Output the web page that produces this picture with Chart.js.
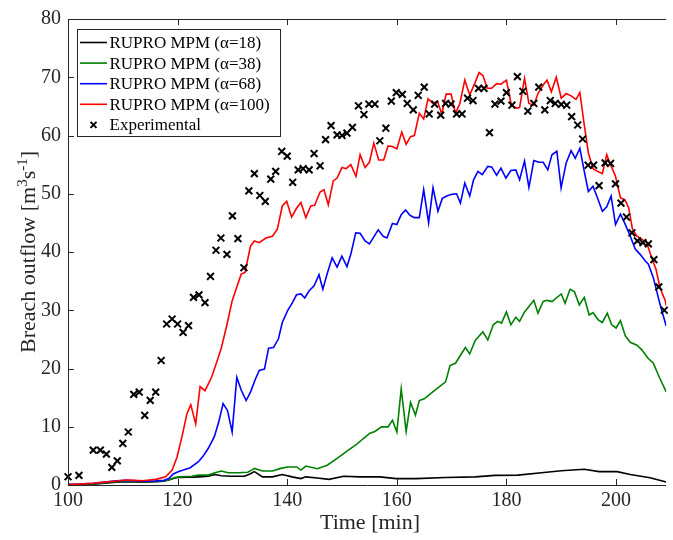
<!DOCTYPE html>
<html>
<head>
<meta charset="utf-8">
<script src="https://cdn.jsdelivr.net/npm/chart.js@4/dist/chart.umd.min.js"></script>
<style>
html,body{margin:0;padding:0;background:#fff;}
canvas{display:block;}
</style>
</head>
<body>
<canvas id="c" width="673" height="540"></canvas>
<script>
// ---- Data (time [min], breach outflow [m3/s]) ----
const xTicks = [100, 120, 140, 160, 180, 200];
const yTicks = [0, 10, 20, 30, 40, 50, 60, 70, 80];

const seriesLabels = ['RUPRO MPM (\u03b1=18)', 'RUPRO MPM (\u03b1=38)', 'RUPRO MPM (\u03b1=68)', 'RUPRO MPM (\u03b1=100)', 'Experimental'];

const alpha18 = [[100,0],[104.6,0.15],[108.8,0.5],[110.6,0.55],[113.6,0.5],[116,0.55],[117.5,0.65],[118.5,0.9],[119.5,1.2],[120.2,1.3],[122.6,1.35],[123.8,1.4],[125.6,1.5],[126.8,1.8],[128,1.6],[129.8,1.5],[132.2,1.5],[133.2,1.9],[134,2.3],[135.5,1.4],[137.3,1.4],[139.1,1.8],[140.9,1.4],[142.5,1.1],[143.4,1.4],[145.5,1.2],[147.6,0.97],[150.3,1.5],[153.3,1.4],[156.9,1.4],[159.9,1.1],[163.5,1.1],[168.9,1.3],[174.3,1.4],[177.9,1.66],[182.1,1.7],[186.4,2.1],[190,2.45],[194.2,2.7],[196.9,2.3],[200.2,2.3],[202.6,1.8],[206.2,1.25],[209.15,0.5]];

const alpha38 = [[100,0.05],[104.6,0.2],[108.8,0.55],[110.6,0.65],[113.6,0.55],[116,0.6],[117.5,0.7],[118.5,0.9],[119.5,1.3],[120.2,1.4],[122.6,1.5],[123.8,1.7],[125.6,1.7],[126.8,2.1],[128,2.4],[129.2,2.1],[131,2.1],[132.8,2.2],[133.6,2.6],[134,2.85],[135.5,2.4],[137.3,2.4],[138.8,2.85],[140.05,3.1],[141.7,3.1],[142.5,2.56],[143.4,3.25],[145.5,2.8],[147.3,3.4],[149.1,4.56],[150.9,5.8],[152.7,7],[153.9,7.98],[155.1,8.9],[156,9.2],[157.2,9.97],[158.4,9.97],[159.2,11.1],[160,9.1],[160.8,16.5],[161.7,9.2],[162.5,14.2],[163.4,12],[164.1,14.5],[165,14.8],[166.5,15.95],[168.9,17.7],[169.7,20.5],[170.7,20.9],[172.5,23.6],[173.3,22.5],[174.3,24.8],[175.7,26.3],[176.6,24.9],[177.6,27.5],[178.4,28.1],[179.1,27.8],[180,29.7],[180.8,27.5],[181.7,28.8],[182.4,28.1],[183.3,29.7],[185,31.7],[185.75,29.5],[186.7,31.5],[187.4,31.7],[188.3,31.5],[190,32.8],[190.7,31.2],[191.6,33.6],[192.4,33.2],[193.3,30.9],[194.2,32.2],[195.1,29.2],[195.8,29.6],[196.7,28.4],[197.5,27.9],[198.4,29.5],[199.2,27.5],[200,26.95],[200.8,28.2],[201.7,25.6],[202.6,24.5],[203.8,24],[204.7,23.2],[205.8,21.8],[206.8,20.9],[207.9,18.5],[209.15,16]];

const alpha68 = [[100,0.1],[102,0.15],[104.6,0.3],[106.8,0.5],[108.8,0.7],[110.6,0.8],[112,0.75],[113.6,0.65],[116,0.7],[117.5,0.8],[118.4,1.1],[119.2,1.9],[120.2,2.3],[121.2,2.6],[122.3,2.96],[123.8,4],[124.7,5],[125.6,6.3],[126.7,8.3],[127.5,10.8],[128.3,14],[129.1,12.8],[129.95,9.1],[130.8,18.5],[131.6,16.3],[132.5,14.5],[133.3,15.95],[134.2,18.2],[134.9,19.66],[135.85,19.9],[136.6,23.5],[137.5,23.6],[138.4,25.1],[139.1,27.9],[140.05,29.9],[140.95,31.3],[141.7,32.65],[142.5,32.8],[143.2,32.1],[143.97,33.3],[144.9,34.2],[145.8,36.1],[146.5,33.6],[147.3,36.3],[148.2,39],[149.1,37.4],[149.97,39.3],[150.9,37.5],[151.6,39.6],[152.5,43.3],[153.3,43.2],[154.2,41.9],[155,41.4],[155.8,42.6],[156.6,43.8],[157.5,42.7],[158.2,42.4],[159.2,44.9],[160,44.7],[160.8,46.4],[161.6,47.2],[162.4,46.3],[163.2,45.9],[164.1,45.9],[164.9,50.7],[165.8,45],[166.6,51],[167.5,47],[168.3,49.2],[169.1,49.6],[170,49.9],[170.9,50],[171.6,48.4],[172.4,51.85],[173.3,49.6],[174,52.4],[174.8,53.85],[175.6,53.3],[176.6,54.7],[177.3,54.6],[178.2,53.2],[179,54.4],[179.9,52.7],[180.8,54],[181.7,54.1],[182.4,52.4],[183.3,55.6],[184.1,51.1],[185,55.7],[185.9,55.4],[186.7,55.4],[187.55,54.1],[188.3,56.7],[189.2,57.3],[189.97,51],[190.9,55.3],[191.8,57.4],[192.55,56.1],[193.4,57.8],[194.2,53.85],[194.95,50.4],[195.8,51.3],[196.6,49.3],[197.5,47],[198.3,47.75],[199.1,49.6],[199.9,44.7],[200.8,46.5],[201.7,44.7],[202.6,42.7],[203.5,40.5],[204.4,39.6],[205.3,38.5],[205.9,37.9],[206.8,35.6],[208,31.1],[209.15,27.3]];

const alpha100 = [[100,0.1],[102,0.15],[104.6,0.3],[106.8,0.5],[108.8,0.7],[110.6,0.85],[112,0.8],[113.6,0.73],[116,0.97],[117.8,1.4],[119,2.56],[119.9,4.8],[120.8,8.3],[121.7,12.25],[122.4,13.8],[123.3,10.5],[124.1,16.9],[125,16.2],[126.2,18.5],[127.1,21],[128,23.6],[129,27.5],[129.95,31.6],[130.8,34],[131.6,36.2],[132.3,36.5],[133.3,41],[134,41.9],[134.9,41.6],[136.1,42.4],[137.3,42.7],[138.2,43.9],[139.1,47.9],[139.9,48.7],[140.8,46],[141.7,47.5],[142.5,48.5],[143.4,45.9],[144.3,47.9],[145,48],[146,50.3],[146.7,50.7],[147.5,48.1],[148.4,52.2],[149.1,52.7],[150,54.5],[150.75,54.3],[151.6,55],[152.55,53],[153.3,56.7],[154.2,54.5],[155,55.4],[155.8,58.7],[156.7,55.8],[157.6,55.8],[158.4,58.2],[159.2,58.1],[160,57.7],[160.9,60.6],[161.7,58.5],[162.5,59.8],[163.2,60],[164.1,63.8],[164.9,62.85],[165.7,66.3],[166.6,65.5],[167.4,65.9],[168.2,63.7],[169,67.1],[169.9,67.1],[170.7,63.8],[171.5,65.5],[172.4,69.5],[173.3,66.95],[174.2,68.9],[175,70.8],[175.7,70.3],[176.5,68.1],[177.3,68.1],[178.2,68.9],[179,68.8],[180,69.5],[180.9,65.2],[181.85,64.7],[182.4,64.8],[183.3,69.8],[184.1,65.5],[185,65.2],[185.75,67.2],[186.8,68.8],[187.4,69.5],[188.2,67.5],[189.1,70],[190,66.4],[190.9,67.2],[191.8,66.8],[192.7,66.2],[193.4,67.4],[194.2,61.8],[194.95,57],[195.8,54.3],[196.6,53.85],[197.5,53.45],[198.3,56.7],[199,55],[199.9,53],[200.8,49.3],[201.6,49],[202.3,47.6],[203,43.9],[203.8,42.7],[204.7,42.2],[205.6,41.6],[206.5,39],[207.3,37],[208,33.9],[209,31.6],[209.15,30.8]];

const experimental = [[100,1.42],[102,1.66],[104.6,5.98],[105.9,5.98],[107,5.3],[108,3.03],[109,4.15],[110,7.13],[111,9.1],[112,15.56],[113,15.95],[114,11.97],[115,14.53],[116,15.95],[117,21.37],[118,27.64],[119,28.5],[120,27.64],[121,26.2],[122,27.35],[122.9,32.2],[123.9,32.65],[125,31.3],[126,35.8],[127,40.3],[127.9,42.4],[129,39.6],[130,46.2],[131,42.3],[132.1,37.3],[133,50.5],[134,53.45],[135,49.7],[136,48.7],[137,52.5],[137.9,53.85],[139,57.26],[140,56.46],[141,51.97],[142,54.1],[142.9,54.3],[144,54.1],[144.9,56.9],[146,54.8],[147,59.3],[148,61.7],[149.1,60.1],[150,60],[150.9,60.4],[151.9,61.4],[153,65.1],[154,63.6],[154.9,65.4],[156,65.4],[156.9,59.1],[158,61.25],[159,65.9],[159.9,67.35],[161,67.06],[161.9,65.5],[163,64.4],[163.9,66.9],[165,68.3],[165.9,63.7],[166.9,65.4],[168,63.5],[168.9,65.5],[169.9,65.4],[170.9,63.7],[171.9,63.7],[172.9,66.4],[173.9,66],[174.9,68.1],[175.9,68.1],[176.9,60.5],[177.9,65.4],[179,65.9],[180,67.35],[181,65.2],[182,70.1],[183,67.6],[183.9,64.2],[185,65.5],[185.9,68.3],[187,64.4],[188,66],[188.9,65.5],[190,65.35],[191,65.2],[191.9,63.25],[193,61.8],[193.9,59.4],[194.9,54.9],[195.9,54.9],[196.9,51.4],[198,55.3],[199,55.2],[199.9,51.7],[200.9,48.4],[201.9,46],[202.9,43.3],[203.9,41.9],[204.9,41.6],[205.9,41.4],[206.9,38.7],[207.8,34],[208.8,30]];

const seriesColors = ['#000000', '#008000', '#0000ff', '#ff0000'];

// ---- Chart ----
const FONT = '"Liberation Serif", "Times New Roman", serif';
const AX = '#262626';
const TICK_SIZE = 20;
const TITLE_SIZE = 22;
const toXY = arr => arr.map(p => ({x: p[0], y: p[1]}));

const lineSets = [alpha18, alpha38, alpha68, alpha100].map((d, i) => ({
  type: 'line',
  label: seriesLabels[i],
  data: toXY(d),
  borderColor: seriesColors[i],
  backgroundColor: seriesColors[i],
  borderWidth: 1.6,
  pointRadius: 0,
  tension: 0,
  order: 4 - i
}));

const expSet = {
  type: 'scatter',
  label: seriesLabels[4],
  data: toXY(experimental),
  pointStyle: 'crossRot',
  pointRadius: 4.8,
  borderColor: '#000',
  backgroundColor: '#000',
  pointBorderWidth: 2,
  borderWidth: 2,
  showLine: false,
  clip: false,
  order: 0
};

const framePlugin = {
  id: 'frame',
  afterDraw(chart) {
    const {ctx, chartArea: a, scales: {x, y}} = chart;
    ctx.save();
    ctx.strokeStyle = AX;
    ctx.lineWidth = 1;
    ctx.beginPath();
    ctx.moveTo(a.left + 0.5, a.top + 0.5);
    ctx.lineTo(a.left + 0.5, a.bottom + 0.5);
    ctx.lineTo(a.right, a.bottom + 0.5);
    ctx.moveTo(a.left, a.top + 0.5);
    ctx.lineTo(a.right, a.top + 0.5);
    yTicks.forEach(v => {
      const py = Math.round(y.getPixelForValue(v)) + 0.5;
      ctx.moveTo(a.left, py); ctx.lineTo(a.left + 6, py);
    });
    xTicks.forEach(v => {
      const px = Math.round(x.getPixelForValue(v)) + 0.5;
      ctx.moveTo(px, a.bottom); ctx.lineTo(px, a.bottom - 6);
      ctx.moveTo(px, a.top); ctx.lineTo(px, a.top + 6);
    });
    ctx.stroke();

    // Axis titles
    ctx.fillStyle = AX;
    ctx.font = TITLE_SIZE + 'px ' + FONT;
    ctx.textAlign = 'center';
    ctx.textBaseline = 'middle';
    ctx.fillText('Time [min]', 370, 523);

    // y title with superscripts
    ctx.save();
    ctx.translate(28, (a.top + a.bottom) / 2);
    ctx.rotate(-Math.PI / 2);
    const big = TITLE_SIZE + 'px ' + FONT, small = Math.round(TITLE_SIZE * 0.68) + 'px ' + FONT;
    const parts = [['Breach outflow [m', big, 0], ['3', small, -8], ['s', big, 0], ['-1', small, -8], [']', big, 0]];
    let total = 0;
    parts.forEach(p => { ctx.font = p[1]; total += ctx.measureText(p[0]).width; });
    let cx = -total / 2;
    ctx.textAlign = 'left';
    ctx.textBaseline = 'alphabetic';
    parts.forEach(p => { ctx.font = p[1]; ctx.fillText(p[0], cx, 7 + p[2]); cx += ctx.measureText(p[0]).width; });
    ctx.restore();

    // Legend
    const lx = 77.5, ly = 29.5, lw = 203, lh = 107;
    ctx.fillStyle = '#fff';
    ctx.fillRect(lx, ly, lw, lh);
    ctx.strokeStyle = AX;
    ctx.lineWidth = 1;
    ctx.strokeRect(lx, ly, lw, lh);
    ctx.font = '17px ' + FONT;
    ctx.textAlign = 'left';
    ctx.textBaseline = 'middle';
    const rowY = [42.5, 63.1, 83.7, 104.3, 124.9];
    seriesLabels.forEach((lab, i) => {
      const ry = rowY[i];
      if (i < 4) {
        ctx.strokeStyle = seriesColors[i];
        ctx.lineWidth = 1.6;
        ctx.beginPath(); ctx.moveTo(80, ry); ctx.lineTo(107, ry); ctx.stroke();
      } else {
        ctx.strokeStyle = '#000';
        ctx.lineWidth = 2;
        ctx.beginPath();
        ctx.moveTo(90.5, ry - 3); ctx.lineTo(96.5, ry + 3);
        ctx.moveTo(96.5, ry - 3); ctx.lineTo(90.5, ry + 3);
        ctx.stroke();
      }
      ctx.fillStyle = '#000';
      ctx.fillText(lab, 109.5, ry + 1);
    });
    ctx.restore();
  }
};

new Chart(document.getElementById('c'), {
  data: { datasets: [...lineSets, expSet] },
  options: {
    responsive: false,
    animation: false,
    layout: { padding: { top: 17, right: 0, left: 0, bottom: 0 } },
    plugins: { legend: { display: false }, tooltip: { enabled: false } },
    scales: {
      x: {
        type: 'linear',
        min: 100,
        max: 209.15,
        grid: { display: false, drawTicks: false },
        border: { display: false },
        afterBuildTicks: s => { s.ticks = xTicks.map(v => ({value: v})); },
        afterFit: s => { s.height = 55; },
        ticks: { color: AX, font: { family: FONT, size: TICK_SIZE }, padding: 4, maxRotation: 0, autoSkip: false }
      },
      y: {
        type: 'linear',
        min: 0,
        max: 80,
        grid: { display: false, drawTicks: false },
        border: { display: false },
        afterBuildTicks: s => { s.ticks = yTicks.map(v => ({value: v})); },
        afterFit: s => { s.width = 68; },
        ticks: { color: AX, font: { family: FONT, size: TICK_SIZE }, padding: 7, autoSkip: false }
      }
    }
  },
  plugins: [framePlugin]
});
</script>
</body>
</html>
